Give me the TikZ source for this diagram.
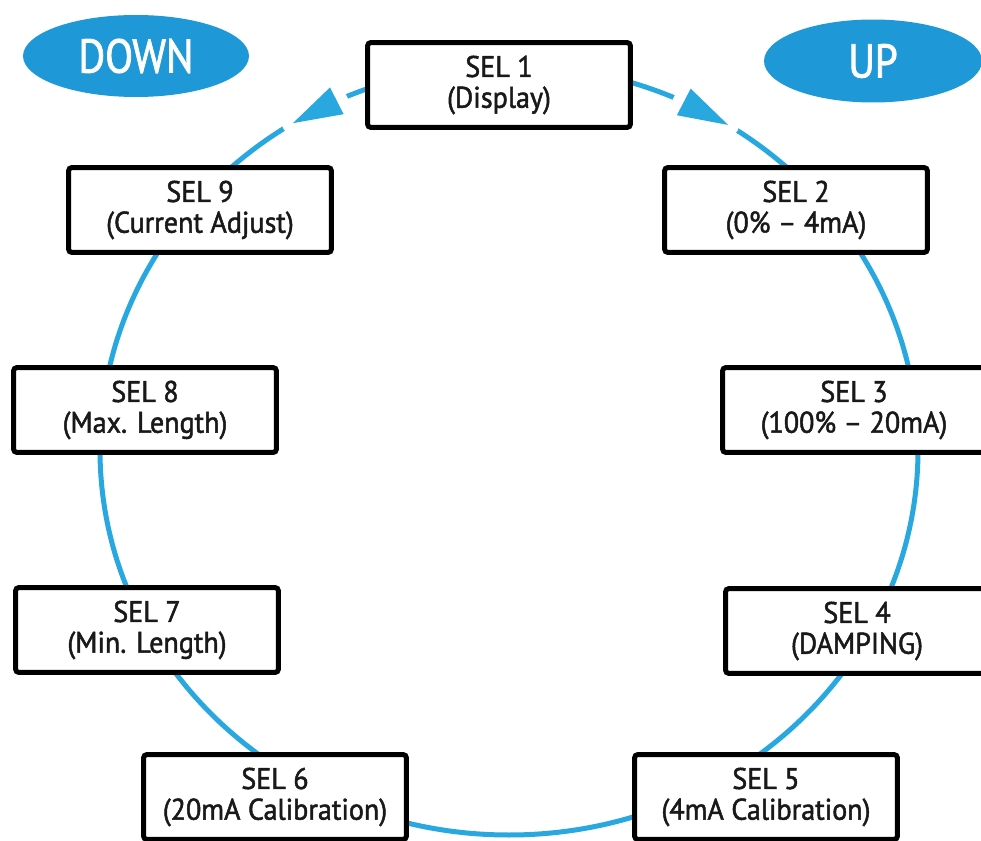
\documentclass[tikz,border=0pt]{standalone}
\usepackage{fontspec}
\setmainfont{PT Sans}[FakeBold=1.6, FakeStretch=0.94]
\newfontfamily\keyfont{PT Sans}[FakeBold=1.6, FakeStretch=0.86]
\usetikzlibrary{shapes.geometric, calc}

\definecolor{ringblue}{RGB}{41,168,224}
\definecolor{keyblue}{RGB}{30,152,214}

\begin{document}
\begin{tikzpicture}[x=0.02cm, y=-0.02cm,
  sel/.style={draw=black, line width=0.1cm, fill=white, rounded corners=2pt,
    minimum width=5.26cm, minimum height=1.7cm, inner sep=0pt, align=center,
    text=black!90, font=\fontsize{17}{17.5}\selectfont},
  key/.style={ellipse, fill=keyblue, text=white, inner sep=0pt,
    font=\keyfont\fontsize{27}{27}\selectfont},
  ring/.style={draw=ringblue, line width=0.1cm},
  gap/.style={draw=white, line width=0.44cm, line join=round},
  tip/.style={fill=ringblue}]
\useasboundingbox (0,0) rectangle (981,841);
\coordinate (centre) at (509,450);
\draw[ring] (centre) ellipse [x radius=409, y radius=385];

\node (sel1) [sel] at (499,85) {SEL 1\\(Display)};
\node (sel2) [sel] at (796,210) {SEL 2\\(0\% -- 4mA)};
\node (sel3) [sel] at (854,410) {SEL 3\\(100\% -- 20mA)};
\node (sel4) [sel] at (857,631) {SEL 4\\(DAMPING)};
\node (sel5) [sel] at (766,797) {SEL 5\\(4mA Calibration)};
\node (sel6) [sel] at (275,797) {SEL 6\\(20mA Calibration)};
\node (sel7) [sel] at (147,630) {SEL 7\\(Min. Length)};
\node (sel8) [sel] at (145,410) {SEL 8\\(Max. Length)};
\node (sel9) [sel] at (200,210) {SEL 9\\(Current Adjust)};

\node (down) [key, minimum width=4.52cm, minimum height=1.64cm] at (136,56) {DOWN};
\node (up) [key, minimum width=4.36cm, minimum height=1.66cm] at (873,61) {UP};

% arrow heads on the ring, pointing away from SEL 1
\foreach \tipang/\baseang [count=\i] in {-121.9/-114.9, -57.6/-64.7} {
  \coordinate (tip\i) at ($(centre)+(\tipang:409 and 385)$);
  \coordinate (base\i) at ($(centre)+(\baseang:409 and 385)$);
  \coordinate (wingA\i) at ($(base\i)!0.3cm!90:(tip\i)$);
  \coordinate (wingB\i) at ($(base\i)!0.3cm!-90:(tip\i)$);
  \draw[gap] (tip\i) -- (wingA\i) -- (wingB\i) -- cycle;
  \fill[tip] (tip\i) -- (wingA\i) -- (wingB\i) -- cycle;
}
\end{tikzpicture}
\end{document}
